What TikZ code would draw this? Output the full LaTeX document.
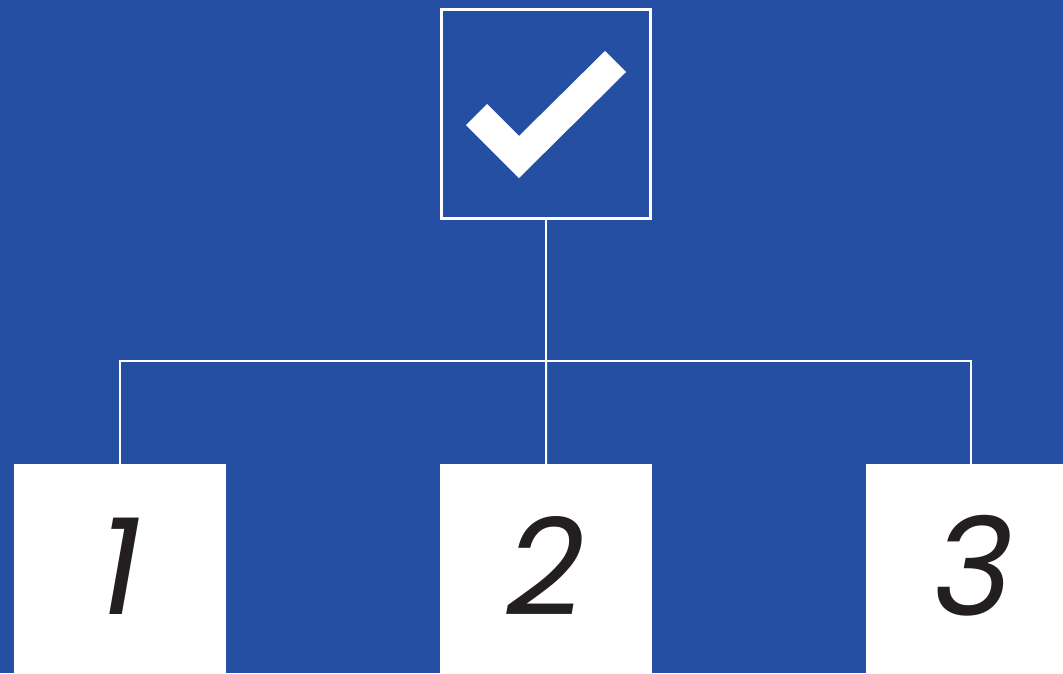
\documentclass[tikz,border=0pt]{standalone}
\usepackage{fontspec}
\newfontfamily\digitfont{Poppins}[ItalicFont=* Italic]
\definecolor{bgblue}{HTML}{244FA3}
\definecolor{ink}{HTML}{231F20}
\tikzset{
  wire/.style={draw=white, line width=2pt},
  frame/.style={draw=white, line width=2.2pt, minimum width=209pt, minimum height=209pt, inner sep=0pt},
  tile/.style={fill=white, draw=none, minimum width=212pt, minimum height=212pt, inner sep=0pt, anchor=north west},
  digit/.style={text=ink, font=\digitfont\itshape\fontsize{136}{136}\selectfont, inner sep=0pt}
}
\begin{document}
\begin{tikzpicture}[x=1pt, y=-1pt]
  \useasboundingbox (0,0) rectangle (1063,673);
  \fill[bgblue] (0,0) rectangle (1063,673);

  % top frame with the tick
  \node[frame] (top) at (546,114) {};
  \fill[white] (466,125) -- (487,104) -- (519,136) -- (605,51) -- (626,72) -- (519,178) -- cycle;

  % three tiles
  \node[tile] (b1) at (14,464) {};
  \node[tile] (b2) at (440,464) {};
  \node[tile] (b3) at (866,464) {};
  \node[digit] (n1) at (120,566) {1};
  \node[digit] (n2) at (546,566) {2};
  \node[digit] (n3) at (974,566) {3};

  % tree connectors
  \draw[wire] (top.south) -- ++(0,141) coordinate (j);
  \draw[wire] (b1.north -| 120,0) |- (j) -| (b3.north -| 971,0);
  \draw[wire] (j) -- (b2.north);
\end{tikzpicture}
\end{document}
